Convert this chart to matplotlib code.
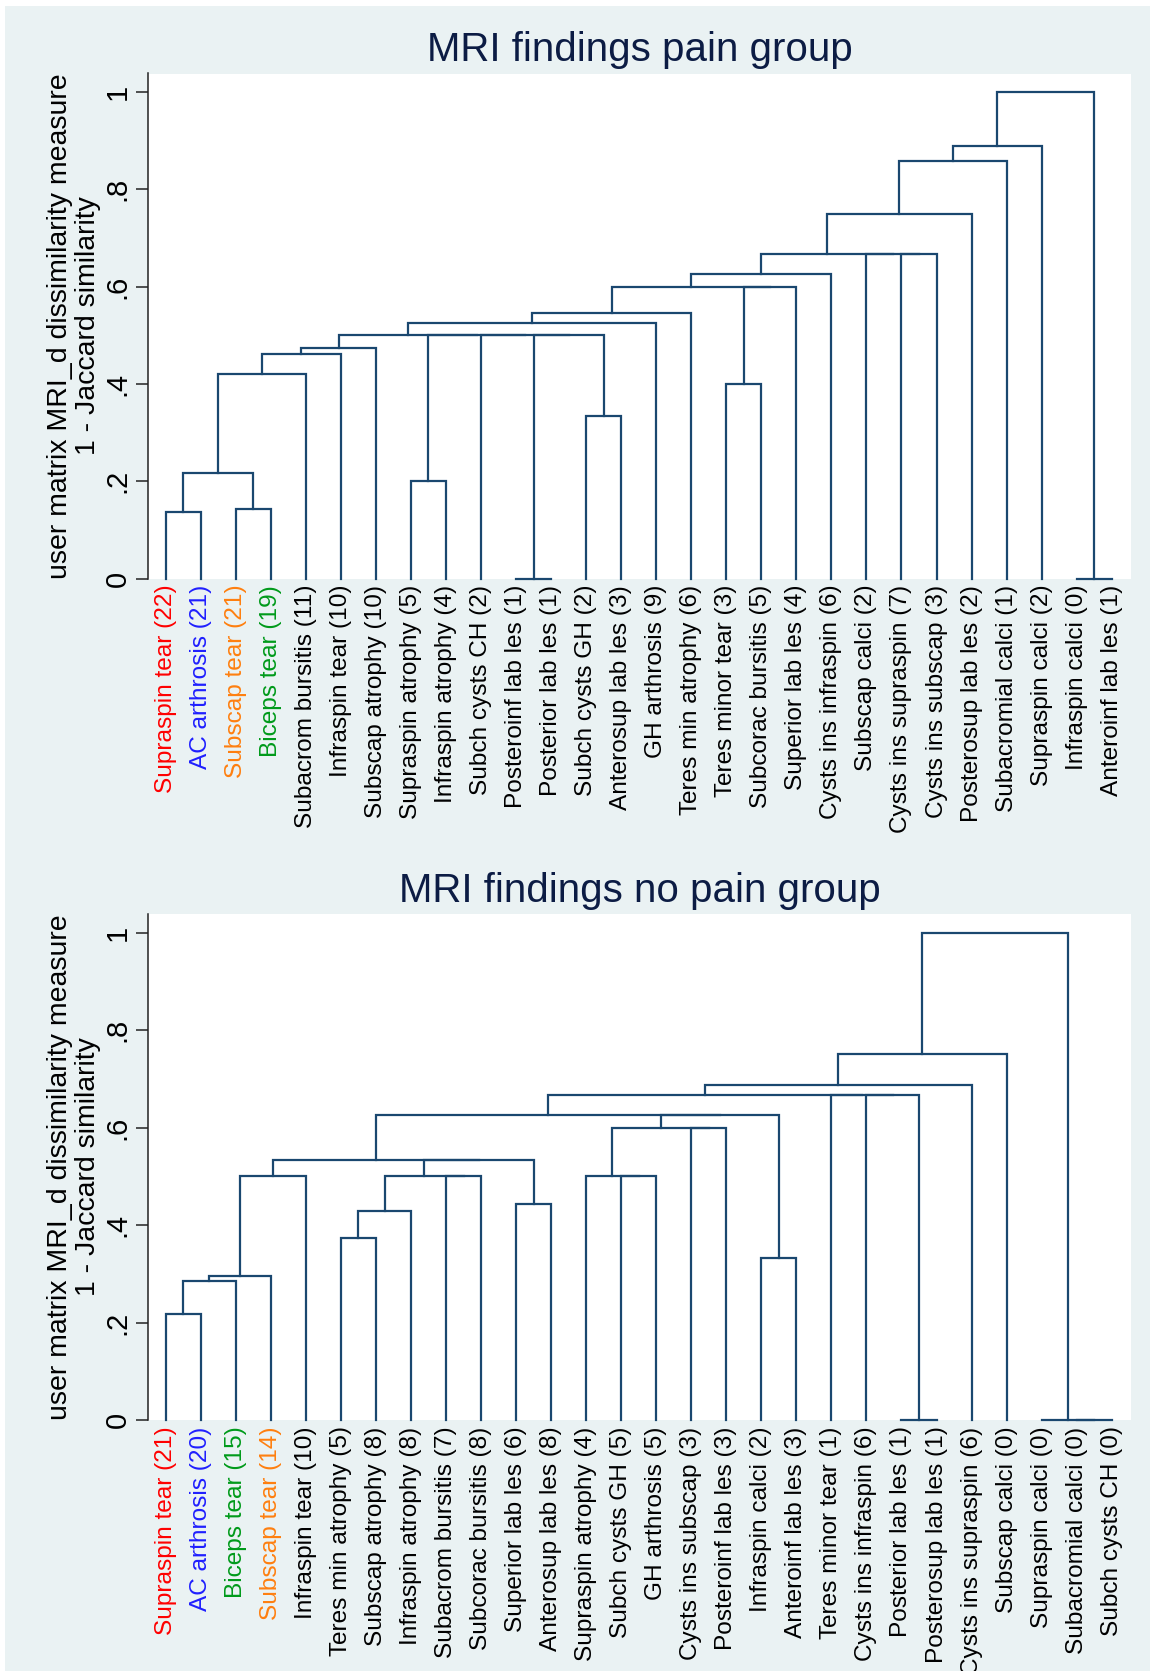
import matplotlib
matplotlib.use("Agg")
import matplotlib.pyplot as plt
from matplotlib.patches import Rectangle

plt.rcParams['font.family'] = ['Liberation Sans', 'DejaVu Sans']

W, H = 1150, 1671

# ---------------- data ----------------
top_title = "MRI findings pain group"
top_labels = ["Supraspin tear (22)", "AC arthrosis (21)", "Subscap tear (21)", "Biceps tear (19)",
              "Subacrom bursitis (11)", "Infraspin tear (10)", "Subscap atrophy (10)",
              "Supraspin atrophy (5)", "Infraspin atrophy (4)", "Subch cysts CH (2)",
              "Posteroinf lab les (1)", "Posterior lab les (1)", "Subch cysts GH (2)",
              "Anterosup lab les (3)", "GH arthrosis (9)", "Teres min atrophy (6)",
              "Teres minor tear (3)", "Subcorac bursitis (5)", "Superior lab les (4)",
              "Cysts ins infraspin (6)", "Subscap calci (2)", "Cysts ins supraspin (7)",
              "Cysts ins subscap (3)", "Posterosup lab les (2)", "Subacromial calci (1)",
              "Supraspin calci (2)", "Infraspin calci (0)", "Anteroinf lab les (1)"]
top_colors = ["red", "blue", "orange", "green"] + ["black"] * 24
# merges: (child a, child b, height); leaves are 0..27, new clusters numbered from 28
top_merges = [(0, 1, 0.137), (2, 3, 0.142), (28, 29, 0.216), (30, 4, 0.421), (31, 5, 0.461),
              (32, 6, 0.473), (7, 8, 0.2), (10, 11, 0.0), (12, 13, 0.333), (35, 36, 0.5),
              (9, 37, 0.5), (34, 38, 0.5), (33, 39, 0.5), (40, 14, 0.526), (41, 15, 0.545),
              (16, 17, 0.4), (43, 18, 0.6), (42, 44, 0.6), (45, 19, 0.625), (21, 22, 0.667),
              (20, 47, 0.667), (46, 48, 0.667), (49, 23, 0.75), (50, 24, 0.857),
              (51, 25, 0.889), (26, 27, 0.0), (52, 53, 1.0)]

bot_title = "MRI findings no pain group"
bot_labels = ["Supraspin tear (21)", "AC arthrosis (20)", "Biceps tear (15)", "Subscap tear (14)",
              "Infraspin tear (10)", "Teres min atrophy (5)", "Subscap atrophy (8)",
              "Infraspin atrophy (8)", "Subacrom bursitis (7)", "Subcorac bursitis (8)",
              "Superior lab les (6)", "Anterosup lab les (8)", "Supraspin atrophy (4)",
              "Subch cysts GH (5)", "GH arthrosis (5)", "Cysts ins subscap (3)",
              "Posteroinf lab les (3)", "Infraspin calci (2)", "Anteroinf lab les (3)",
              "Teres minor tear (1)", "Cysts ins infraspin (6)", "Posterior lab les (1)",
              "Posterosup lab les (1)", "Cysts ins supraspin (6)", "Subscap calci (0)",
              "Supraspin calci (0)", "Subacromial calci (0)", "Subch cysts CH (0)"]
bot_colors = ["red", "blue", "green", "orange"] + ["black"] * 24
bot_merges = [(0, 1, 0.217), (28, 2, 0.285), (29, 3, 0.295), (30, 4, 0.5), (5, 6, 0.374),
              (32, 7, 0.429), (8, 9, 0.5), (33, 34, 0.5), (10, 11, 0.444), (35, 36, 0.534),
              (31, 37, 0.534), (13, 14, 0.5), (12, 39, 0.5), (15, 16, 0.6), (40, 41, 0.6),
              (17, 18, 0.333), (42, 43, 0.625), (38, 44, 0.625), (21, 22, 0.0),
              (20, 46, 0.667), (19, 47, 0.667), (45, 48, 0.667), (49, 23, 0.687),
              (50, 24, 0.75), (26, 27, 0.0), (25, 52, 0.0), (51, 53, 1.0)]

yticks = [0, 0.2, 0.4, 0.6, 0.8, 1.0]
ytick_labels = ["0", ".2", ".4", ".6", ".8", "1"]
ylab1 = "user matrix MRI_d dissimilarity measure"
ylab2 = "1 - Jaccard similarity"

# ---------------- style ----------------
BG = "#eaf2f3"
LINE = "#1a476f"
TITLE_C = "#0c1c44"
CMAP = {"red": "#ff0000", "blue": "#1f1fff", "orange": "#ff7f0f", "green": "#009a1a",
        "black": "#000000"}

fig = plt.figure(figsize=(W / 100, H / 100), dpi=100, facecolor="white")
fig.patches.append(Rectangle((5 / W, 0), 1, 1 - 6 / H, transform=fig.transFigure,
                             facecolor=BG, edgecolor="none", zorder=-10))


def draw_panel(labels, colors, merges, title, ytop_px, ybot_px, ymax, title_base_px):
    x0, x1 = 148, 1131
    ax = fig.add_axes([x0 / W, 1 - ybot_px / H, (x1 - x0) / W, (ybot_px - ytop_px) / H])
    ax.set_facecolor("white")
    n = len(labels)
    xs = {i: float(i) for i in range(n)}
    hs = {i: 0.0 for i in range(n)}
    for k, (a, b, h) in enumerate(merges):
        node = n + k
        ax.plot([xs[a], xs[a], xs[b], xs[b]], [hs[a], h, h, hs[b]], color=LINE, lw=1.6,
                solid_joinstyle="miter", clip_on=False, zorder=3)
        xs[node] = (xs[a] + xs[b]) / 2
        hs[node] = h
    ax.set_xlim(-0.505, n - 1 + 0.55)
    ax.set_ylim(0, ymax)
    for s in ("top", "right", "bottom"):
        ax.spines[s].set_visible(False)
    ax.spines["left"].set_linewidth(1.1)
    ax.spines["left"].set_color("#222222")
    ax.set_yticks(yticks)
    ax.set_yticklabels(ytick_labels, rotation=90, va="center", fontsize=21)
    ax.tick_params(axis="y", length=8.8, width=1.1, pad=3, color="#222222")
    ax.set_xticks(range(n))
    ax.set_xticklabels(labels, rotation=90, fontsize=17.6)
    ax.tick_params(axis="x", length=0, pad=4.5)
    for t, c in zip(ax.get_xticklabels(), colors):
        t.set_color(CMAP[c])
    yc = 1 - (ytop_px + ybot_px) / 2 / H
    fig.text(67 / W, yc, ylab1, rotation=90, rotation_mode="anchor", ha="center",
             va="baseline", fontsize=20.5)
    fig.text(95 / W, yc, ylab2, rotation=90, rotation_mode="anchor", ha="center",
             va="baseline", fontsize=20.5)
    fig.text((x0 + x1) / 2 / W, 1 - title_base_px / H, title, ha="center", va="baseline",
             fontsize=29, color=TITLE_C)
    return ax


draw_panel(top_labels, top_colors, top_merges, top_title, 73.5, 578.6, 1.0376, 61.2)
draw_panel(bot_labels, bot_colors, bot_merges, bot_title, 913.5, 1420.2, 1.039, 902.4)

fig.savefig("out.png", dpi=100, facecolor=fig.get_facecolor())
